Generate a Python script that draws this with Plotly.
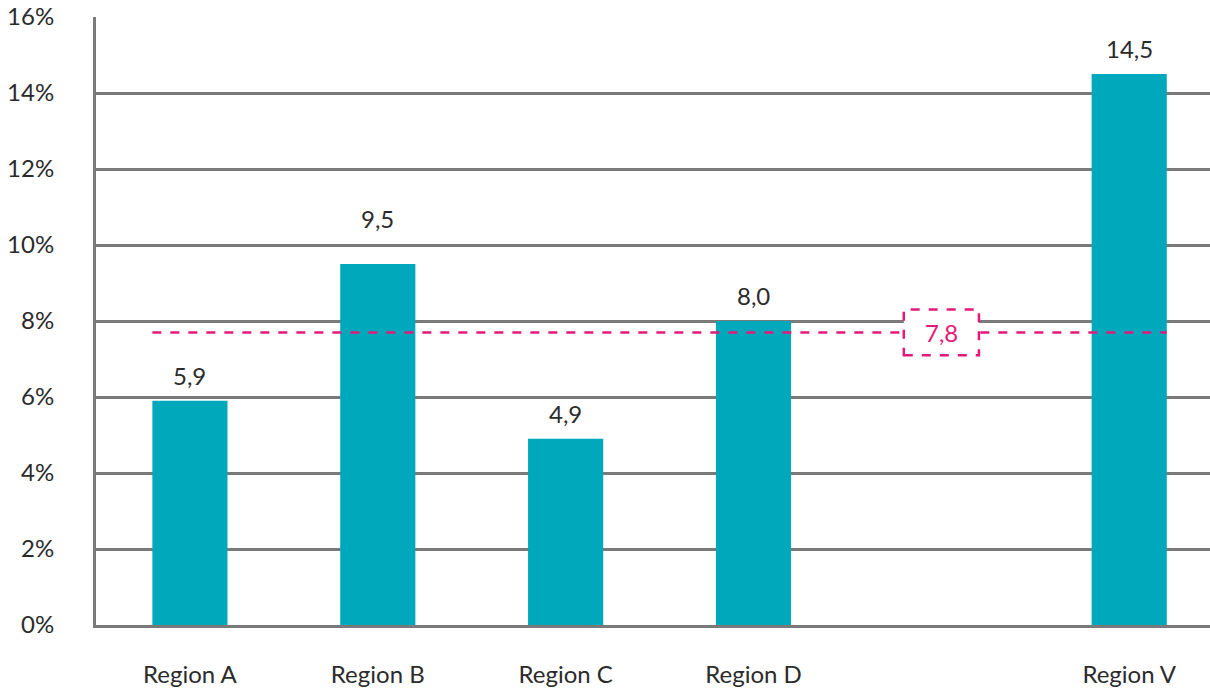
import plotly.graph_objects as go

categories = ["Region A", "Region B", "Region C", "Region D", " ", "Region V"]
values = [5.9, 9.5, 4.9, 8.0, None, 14.5]
average_value = 7.7
average_label = "7,8"
average_slot = " "
y_ticks = [0, 2, 4, 6, 8, 10, 12, 14, 16]
y_tick_labels = ["0%", "2%", "4%", "6%", "8%", "10%", "12%", "14%", "16%"]

BAR = "#00a8bc"
PINK = "#e5197a"
GRID = "#7a7a7a"
TEXT = "#2b2b2b"
FONT = "Lato"
FS = 24

BAR_W = 0.4
# labels nudged up where they would otherwise sit on a gridline
label_lift = {"Region B": 20}

fig = go.Figure()
fig.add_trace(go.Bar(
    x=categories,
    y=values,
    width=BAR_W,
    marker=dict(color=BAR, line=dict(width=0)),
    hoverinfo="skip",
))

# value labels above bars
for cat, val in zip(categories, values):
    if val is None:
        continue
    fig.add_annotation(
        x=cat, y=val, text=f"{val:.1f}".replace(".", ","),
        showarrow=False, yanchor="bottom", yshift=9 + label_lift.get(cat, 0),
        font=dict(family=FONT, size=FS, color=TEXT),
    )

# dashed average line, from the first bar's left edge to the last bar's right edge
first_idx = 0
last_idx = len(categories) - 1
slot_idx = categories.index(average_slot)
fig.add_shape(
    type="line", xref="x", yref="y",
    x0=first_idx - BAR_W / 2, x1=last_idx + BAR_W / 2,
    y0=average_value, y1=average_value,
    line=dict(color=PINK, width=2.5, dash="dash"),
)
fig.add_shape(
    type="rect", xref="x", yref="y",
    x0=slot_idx - 0.2, x1=slot_idx + 0.2,
    y0=average_value - 0.6, y1=average_value + 0.6,
    fillcolor="white",
    line=dict(color=PINK, width=2.5, dash="dash"),
)
fig.add_annotation(
    x=average_slot, y=average_value, text=average_label, showarrow=False,
    font=dict(family=FONT, size=FS, color=PINK),
)

fig.update_layout(
    width=1210,
    height=688,
    margin=dict(l=96, r=0, t=17, b=63),
    plot_bgcolor="white",
    paper_bgcolor="white",
    showlegend=False,
    font=dict(family=FONT, size=FS, color=TEXT),
)
fig.update_xaxes(
    type="category",
    range=[-0.5, 5.43],
    automargin=False,
    showgrid=False,
    showline=True, linecolor=GRID, linewidth=3,
    ticks="", ticklabelstandoff=26,
    tickfont=dict(family=FONT, size=FS, color=TEXT),
    zeroline=False,
)
fig.update_yaxes(
    range=[0, 16],
    automargin=False,
    tickvals=y_ticks,
    ticktext=y_tick_labels,
    showgrid=True, gridcolor=GRID, gridwidth=2.5,
    showline=True, linecolor=GRID, linewidth=3,
    zeroline=False,
    ticks="", ticklabelstandoff=34,
    tickfont=dict(family=FONT, size=FS, color=TEXT),
)

# drop the browser's default body margin so the figure fills the window
fig.write_html(
    "out.html",
    config={"displayModeBar": False},
    post_script="document.body.style.margin='0';document.body.style.overflow='hidden';",
)
